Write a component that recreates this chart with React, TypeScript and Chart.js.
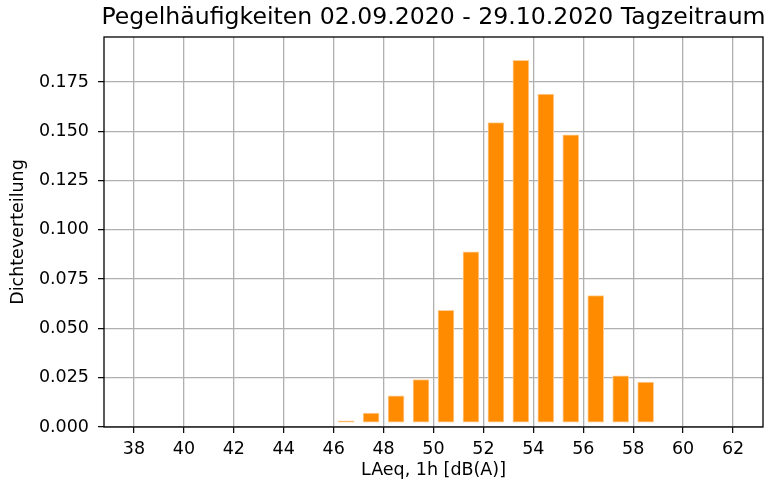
import React, { useEffect, useRef } from "react";
import { Chart, registerables } from "chart.js";

Chart.register(...registerables);

const titleText = "Pegelhäufigkeiten 02.09.2020 - 29.10.2020 Tagzeitraum";
const xAxisLabel = "LAeq, 1h [dB(A)]";
const yAxisLabel = "Dichteverteilung";

// bin centres (dB(A)) and density
const binCenters = [46.5, 47.5, 48.5, 49.5, 50.5, 51.5, 52.5, 53.5, 54.5, 55.5, 56.5, 57.5, 58.5];
const density = [0.0031, 0.0071, 0.0158, 0.024, 0.0592, 0.0888, 0.1544, 0.186, 0.1688, 0.1482, 0.0666, 0.026, 0.0228];

const xTicks = [38, 40, 42, 44, 46, 48, 50, 52, 54, 56, 58, 60, 62];
const yTicks = [0, 0.025, 0.05, 0.075, 0.1, 0.125, 0.15, 0.175];

const FONT = "'DejaVu Sans', sans-serif";

const frame = {
  id: "frame",
  afterDraw(chart: any) {
    const { ctx, chartArea: a } = chart;
    ctx.save();
    ctx.strokeStyle = "#000";
    ctx.lineWidth = 1.3;
    ctx.strokeRect(a.left, a.top, a.right - a.left, a.bottom - a.top);
    ctx.fillStyle = "#000";
    ctx.font = "23.6px " + FONT;
    ctx.textAlign = "center";
    ctx.textBaseline = "middle";
    ctx.fillText(titleText, (a.left + a.right) / 2, 18);
    ctx.restore();
  },
};

export default function App() {
  const ref = useRef<HTMLCanvasElement>(null);
  useEffect(() => {
    document.body.style.margin = "0";
    const chart = new Chart(ref.current!, {
      type: "bar",
      data: {
        datasets: [
          {
            data: binCenters.map((x, i) => ({ x, y: density[i] })),
            backgroundColor: "#ff8c00",
            borderColor: "#ffcf99",
            borderWidth: 1,
            borderSkipped: false,
            barThickness: 16,
            base: 0.0025,
          } as any,
        ],
      },
      options: {
        responsive: false,
        animation: false,
        layout: { padding: { left: 0, right: 8, top: 37, bottom: 0 } },
        plugins: {
          legend: { display: false },
          tooltip: { enabled: false },
          title: { display: false },
        },
        scales: {
          x: {
            type: "linear",
            min: 36.8,
            max: 63.2,
            offset: false,
            z: 1,
            afterBuildTicks: (s: any) => {
              s.ticks = xTicks.map((v) => ({ value: v }));
            },
            afterFit: (s: any) => {
              s.height = 60;
            },
            ticks: {
              includeBounds: false,
              color: "#000",
              font: { family: FONT, size: 17.5 },
              padding: 6,
              maxRotation: 0,
              autoSkip: false,
            },
            grid: {
              offset: false,
              color: "#b0b0b0",
              lineWidth: 1.3,
              tickColor: "#000",
              tickLength: 6,
              tickWidth: 1.2,
            },
            border: { display: false },
            title: {
              display: true,
              text: xAxisLabel,
              color: "#000",
              font: { family: FONT, size: 17.5 },
              padding: { top: 0, bottom: 6 },
            },
          },
          y: {
            type: "linear",
            min: 0,
            max: 0.1978,
            z: 1,
            afterBuildTicks: (s: any) => {
              s.ticks = yTicks.map((v) => ({ value: v }));
            },
            afterFit: (s: any) => {
              s.width = 104;
            },
            ticks: {
              includeBounds: false,
              color: "#000",
              font: { family: FONT, size: 17.5 },
              padding: 9,
              callback: (v: any) => Number(v).toFixed(3),
            },
            grid: {
              color: "#b0b0b0",
              lineWidth: 1.3,
              tickColor: "#000",
              tickLength: 6,
              tickWidth: 1.2,
            },
            border: { display: false },
            title: {
              display: true,
              text: yAxisLabel,
              color: "#000",
              font: { family: FONT, size: 17.5 },
              padding: { top: 8, bottom: 0 },
            },
          },
        },
      },
      plugins: [frame],
    });
    return () => chart.destroy();
  }, []);
  return <canvas ref={ref} width={771} height={487} style={{ display: "block" }} />;
}
